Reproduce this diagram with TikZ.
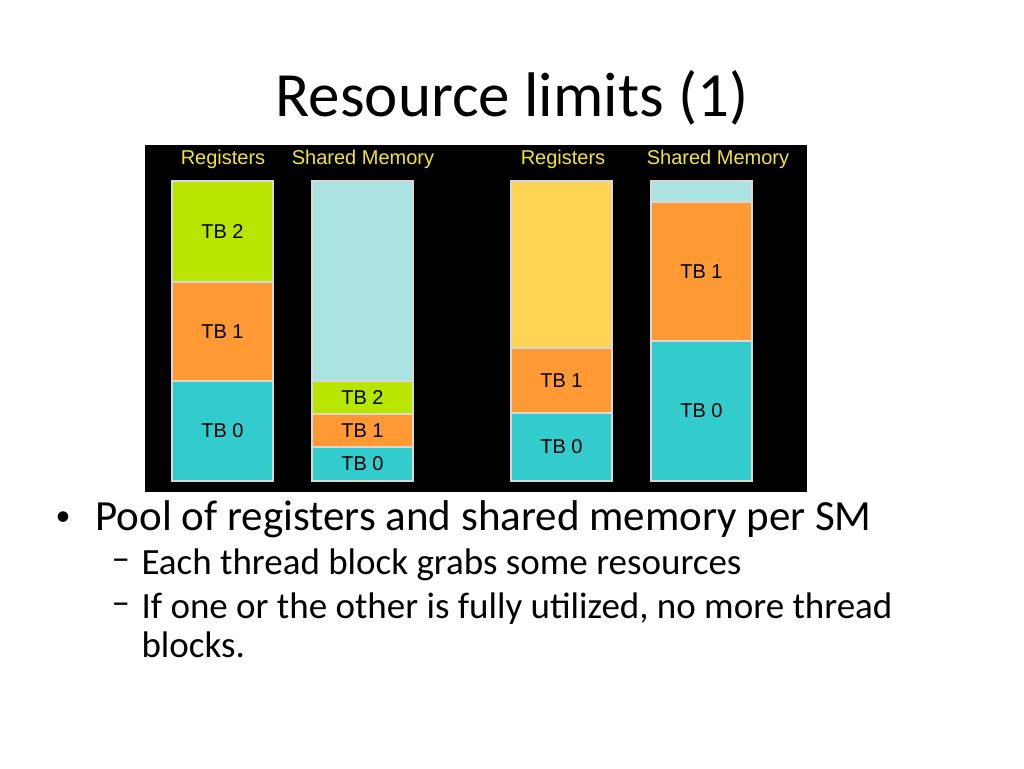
\documentclass[tikz,border=0pt]{standalone}
\usepackage{fontspec}
\setmainfont{Carlito}
\newfontfamily\panelfont{Liberation Sans}
\usetikzlibrary{positioning}
\definecolor{tbgreen}{HTML}{B9E600}
\definecolor{tborange}{HTML}{FF9933}
\definecolor{tbcyan}{HTML}{33CCCC}
\definecolor{tbpale}{HTML}{ABE2E2}
\definecolor{tbyellow}{HTML}{FFD455}
\definecolor{headyellow}{HTML}{F2E33C}
\definecolor{edgegray}{HTML}{D8D8D8}
% #1 name, #2 left x, #3 top y, #4 bottom y, #5 colour, #6 label
\newcommand{\tbblock}[6]{%
  \draw[fill=#5, draw=edgegray, line width=2pt] (#2,#3) rectangle (#2+101,#4);
  \node[panel] (#1) at (#2+50.5,{(#3+#4)/2}) {#6};
}
\tikzset{
  panel/.style={font=\panelfont\fontsize{20}{24}\selectfont, text=black},
  head/.style={font=\panelfont\fontsize{20}{24}\selectfont, text=headyellow},
  subitem/.style={anchor=west, font=\fontsize{37}{44}\selectfont}
}
\begin{document}
\begin{tikzpicture}[x=1pt, y=-1pt]
  \useasboundingbox[fill=white] (0,0) rectangle (1024,768);
  \node[font=\fontsize{63}{75}\selectfont] (title) at (512,98) {Resource limits (1)};
  \fill[black] (145,145) rectangle (807,492);
  % headers
  \node[head] (h1) at (223,159) {Registers};
  \node[head] (h2) at (363,159) {Shared Memory};
  \node[head] (h3) at (563,159) {Registers};
  \node[head] (h4) at (718,159) {Shared Memory};
  % first SM
  \tbblock{a2}{172}{181}{282}{tbgreen}{TB 2}
  \tbblock{a1}{172}{282}{381}{tborange}{TB 1}
  \tbblock{a0}{172}{381}{481}{tbcyan}{TB 0}
  \tbblock{bf}{312}{181}{381}{tbpale}{}
  \tbblock{b2}{312}{381}{414}{tbgreen}{TB 2}
  \tbblock{b1}{312}{414}{447}{tborange}{TB 1}
  \tbblock{b0}{312}{447}{481}{tbcyan}{TB 0}
  % second SM
  \tbblock{cf}{511}{181}{348}{tbyellow}{}
  \tbblock{c1}{511}{348}{413}{tborange}{TB 1}
  \tbblock{c0}{511}{413}{481}{tbcyan}{TB 0}
  \tbblock{df}{651}{181}{202}{tbpale}{}
  \tbblock{d1}{651}{202}{341}{tborange}{TB 1}
  \tbblock{d0}{651}{341}{481}{tbcyan}{TB 0}
  % bullets
  \node[anchor=west, font=\fontsize{30}{36}\selectfont] (b1dot) at (52,519) {\textbullet};
  \node[anchor=west, font=\fontsize{43}{50}\selectfont] (p1) at (92,519) {Pool of registers and shared memory per SM};
  \node[subitem] (d2) at (108,565) {--};
  \node[subitem] (p2) at (138,565) {Each thread block grabs some resources};
  \node[subitem] (d3) at (108,609) {--};
  \node[subitem] (p3) at (138,609) {If one or the other is fully utilized, no more thread};
  \node[subitem] (p4) at (138,645) {blocks.};
\end{tikzpicture}
\end{document}
